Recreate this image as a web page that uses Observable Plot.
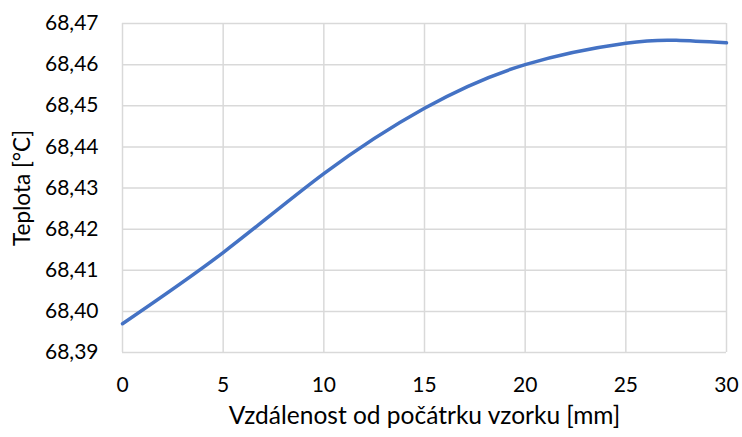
<!DOCTYPE html>
<html>
<head>
<meta charset="utf-8">
<script src="https://cdn.jsdelivr.net/npm/d3@7"></script>
<script src="https://cdn.jsdelivr.net/npm/@observablehq/plot@0.6"></script>
<style>
  html, body { margin: 0; padding: 0; background: #fff; }
  g[aria-label="x-axis label"] text { font-size: 24.5px; }
  g[aria-label="y-axis label"] text { font-size: 22.5px; }
</style>
</head>
<body>
<div id="chart"></div>
<script>
const distance = [0, 5, 10, 15, 20, 25, 27.5, 30];
const temperature = [68.3970, 68.4143, 68.4335, 68.4494, 68.4600, 68.4652, 68.4659, 68.4653];
const xTicks = [0, 5, 10, 15, 20, 25, 30];
const yTicks = [68.39, 68.40, 68.41, 68.42, 68.43, 68.44, 68.45, 68.46, 68.47];
const xLabel = "Vzdálenost od počátrku vzorku [mm]";
const yLabel = "Teplota [°C]";

const data = distance.map((d, i) => ({x: d, y: temperature[i]}));
const fmt = d => d.toFixed(2).replace(".", ",");

const chart = Plot.plot({
  width: 742,
  height: 437,
  marginLeft: 122,
  marginRight: 16,
  marginTop: 23,
  marginBottom: 85,
  style: {fontFamily: "Lato, 'Open Sans', sans-serif", fontSize: "21px", color: "#000", background: "#fff"},
  x: {domain: [0, 30]},
  y: {domain: [68.39, 68.47]},
  marks: [
    Plot.ruleX(xTicks, {stroke: "#d9d9d9", strokeWidth: 1.5, strokeOpacity: 1}),
    Plot.ruleY(yTicks, {stroke: "#d9d9d9", strokeWidth: 1.5, strokeOpacity: 1}),
    Plot.axisX(xTicks, {tickSize: 0, tickPadding: 25, label: xLabel, labelAnchor: "center", labelOffset: 71, labelArrow: "none"}),
    Plot.axisY(yTicks, {tickSize: 0, tickPadding: 24, tickFormat: fmt, label: yLabel, labelAnchor: "center", labelOffset: 108, labelArrow: "none"}),
    Plot.line(data, {x: "x", y: "y", stroke: "#4472C4", strokeWidth: 3.5, curve: "natural"})
  ]
});
document.getElementById("chart").appendChild(chart);
</script>
</body>
</html>
